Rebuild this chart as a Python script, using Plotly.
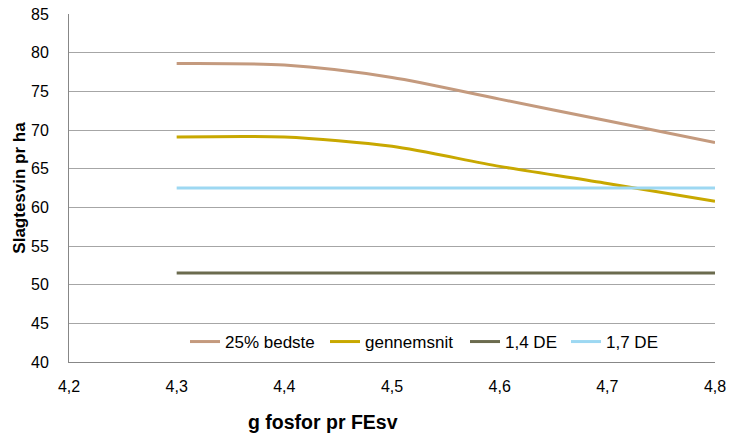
import plotly.graph_objects as go

x_vals = [4.3, 4.4, 4.5, 4.6, 4.7, 4.8]
bedste = [78.6, 78.4, 76.8, 74.0, 71.2, 68.4]
gennemsnit = [69.1, 69.1, 67.9, 65.3, 63.1, 60.8]
de14 = [51.5, 51.5, 51.5, 51.5, 51.5, 51.5]
de17 = [62.5, 62.5, 62.5, 62.5, 62.5, 62.5]
series_names = ["25% bedste", "gennemsnit", "1,4 DE", "1,7 DE"]
colors = ["#C49A7E", "#C8A800", "#6B6B4E", "#9DD8F2"]
x_ticks = [4.2, 4.3, 4.4, 4.5, 4.6, 4.7, 4.8]
x_ticklabels = ["4,2", "4,3", "4,4", "4,5", "4,6", "4,7", "4,8"]
y_ticks = [40, 45, 50, 55, 60, 65, 70, 75, 80, 85]

PL, PR, PT, PB = 69, 715, 14, 362  # plot area in page pixels
legend_px = [185, 325, 465, 566]
legend_ids = ["legend", "legend2", "legend3", "legend4"]

fig = go.Figure()
for name, vals, col, lid in zip(series_names, [bedste, gennemsnit, de14, de17], colors, legend_ids):
    fig.add_trace(go.Scatter(
        x=x_vals, y=vals, name=name, mode="lines", legend=lid,
        line=dict(color=col, width=3, shape="spline", smoothing=0.8),
    ))

legend_layout = {}
for lid, px in zip(legend_ids, legend_px):
    legend_layout[lid] = dict(
        orientation="h", x=(px - PL) / (PR - PL), y=(PB - 342) / (PB - PT),
        xanchor="left", yanchor="middle",
        font=dict(size=17), itemwidth=30, bgcolor="rgba(0,0,0,0)",
    )

fig.update_layout(
    width=729, height=434,
    margin=dict(l=PL, r=729 - PR, t=PT, b=434 - PB, autoexpand=False),
    paper_bgcolor="white", plot_bgcolor="white",
    font=dict(family="Liberation Sans, Arial", size=16, color="black"),
    showlegend=True,
    xaxis=dict(
        range=[4.2, 4.8], tickvals=x_ticks, ticktext=x_ticklabels,
        showgrid=False, zeroline=False, showline=True,
        linecolor="#878787", linewidth=1, ticks="",
        ticklabelstandoff=10, tickfont=dict(size=16),
        ticklabeloverflow="allow",
    ),
    yaxis=dict(
        range=[40, 85.01], tickvals=y_ticks,
        showgrid=True, gridcolor="#A6A6A6", gridwidth=1,
        zeroline=False, showline=True, linecolor="#878787", linewidth=1,
        ticks="", ticklabelstandoff=16, tickfont=dict(size=16),
        ticklabeloverflow="allow",
        title=dict(text="<b>Slagtesvin pr ha</b>", font=dict(size=17), standoff=1),
    ),
    annotations=[dict(
        text="<b>g fosfor pr FEsv</b>", xref="paper", yref="paper",
        x=(323 - PL) / (PR - PL), y=(PB - 422) / (PB - PT), xanchor="center", yanchor="middle",
        showarrow=False, font=dict(size=19.5),
    )],
    **legend_layout,
)

fig.write_html(
    "out.html",
    config={"displayModeBar": False},
    post_script="document.body.style.margin='0';document.body.style.overflow='hidden';",
)
